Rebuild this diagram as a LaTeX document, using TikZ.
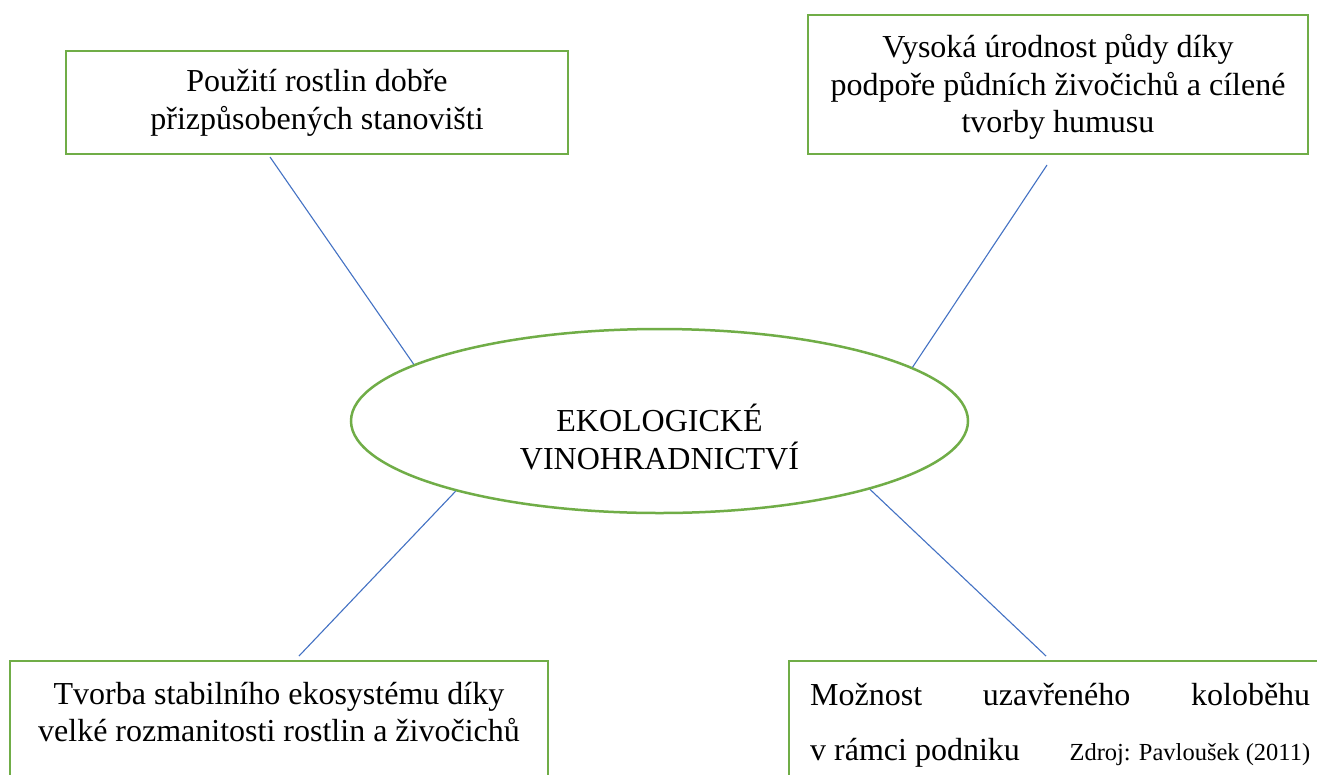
\documentclass[tikz,border=0pt]{standalone}
\usepackage{fontspec}
\setmainfont{Liberation Serif}
\usetikzlibrary{shapes.geometric}
\definecolor{boxgreen}{HTML}{70AD47}
\definecolor{linkblue}{HTML}{4472C4}
\begin{document}
\begin{tikzpicture}[x=1pt,y=-1pt,
  box/.style={draw=boxgreen, line width=2.5pt, rectangle, inner sep=0pt},
  boxtext/.style={align=center, font=\fontsize{32}{37.5}\selectfont, inner sep=0pt},
  link/.style={draw=linkblue, line width=1.1pt}]
\clip (0,0) rectangle (1317,774);
\fill[white] (0,0) rectangle (1317,774);
% boxes
\node[box, minimum width=502, minimum height=103] (tl) at (317,102.5) {};
\node[boxtext] (tlt) at (317,103) {Použití rostlin dobře\\přizpůsobených stanovišti};
\node[box, minimum width=500, minimum height=139] (tr) at (1058,84.5) {};
\node[boxtext] (trt) at (1058,87) {Vysoká úrodnost půdy díky\\podpoře půdních živočichů a cílené\\tvorby humusu};
\node[box, minimum width=538, minimum height=199] (bl) at (279,760.5) {};
\node[boxtext] (blt) at (279,712) {Tvorba stabilního ekosystému díky\\velké rozmanitosti rostlin a živočichů};
\node[box, minimum width=611, minimum height=199] (br) at (1094.5,760.5) {};
\node[inner sep=0pt, anchor=base west, font=\fontsize{32}{37.5}\selectfont] (brt1) at (810,705)
  {\hbox to 500pt{Možnost\hfill uzavřeného\hfill koloběhu}};
\node[inner sep=0pt, anchor=base west, font=\fontsize{32}{37.5}\selectfont] (brt2) at (810,760)
  {\hbox to 500pt{v rámci podniku\hfill{\fontsize{24.5}{28}\selectfont Zdroj: Pavloušek (2011)}}};
% ellipse
\node[draw=boxgreen, line width=2.5pt, ellipse, minimum width=617, minimum height=184, inner sep=0pt] (ell) at (659.5,421) {};
\node[align=center, inner sep=0pt, font=\fontsize{32}{37}\selectfont] (ellt) at (659.5,437) {EKOLOGICKÉ\\VINOHRADNICTVÍ};
% connectors
\coordinate (tlEnd) at (270,157);
\coordinate (trEnd) at (1047,165);
\coordinate (blEnd) at (299,656);
\coordinate (brEnd) at (1046,656);
\draw[link] (tlEnd) -- (ell.167.5);
\draw[link] (trEnd) -- (ell.12.4);
\draw[link] (blEnd) -- (ell.199.1);
\draw[link] (brEnd) -- (ell.342.4);
\end{tikzpicture}
\end{document}
